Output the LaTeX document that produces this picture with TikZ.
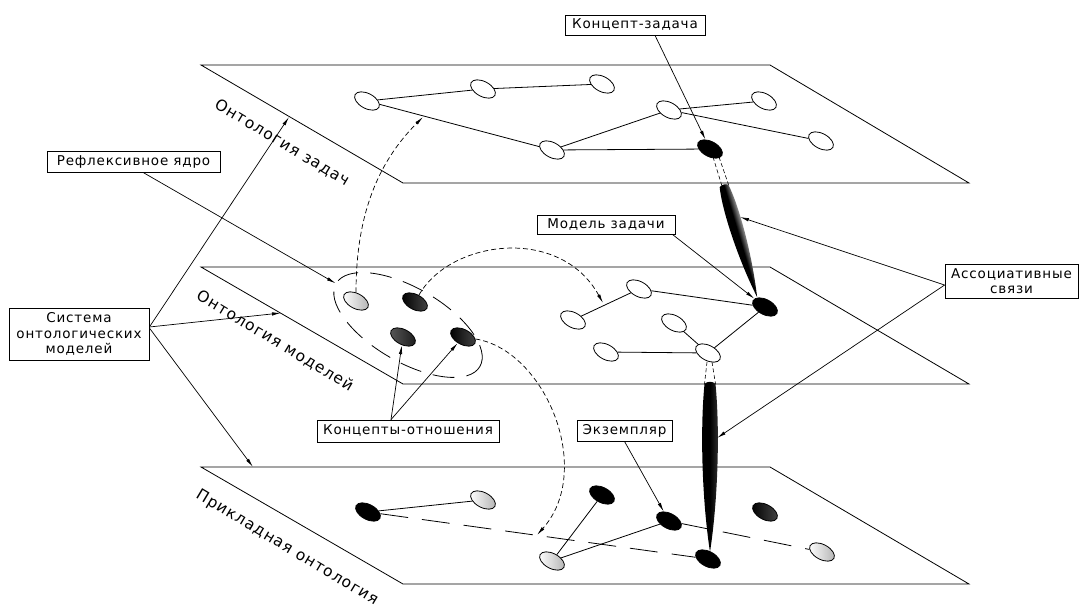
\documentclass[tikz,border=0pt]{standalone}
\usepackage{fontspec}
\setmainfont{DejaVu Sans}
\newfontfamily\lblfont{DejaVu Sans}[LetterSpace=6]
\newfontfamily\plfont{DejaVu Sans}[LetterSpace=7]
\usetikzlibrary{shapes.geometric,arrows.meta,calc}
\begin{document}
\begin{tikzpicture}[x=1pt,y=-1pt,
  plane/.style={draw, line width=0.8},
  nd/.style={ellipse, draw, line width=0.8, minimum width=27, minimum height=15, inner sep=0pt, rotate=-28},
  wn/.style={nd, fill=white},
  bn/.style={nd, fill=black},
  ln/.style={nd, left color=white, right color=gray!60},
  dn/.style={nd, left color=black, right color=gray!55!black},
  gn/.style={nd, left color=gray!70!black, right color=black!90},
  lnk/.style={line width=0.8},
  arr/.style={line width=0.7, -{Latex[length=9pt,width=3.4pt]}},
  darr/.style={line width=0.7, dash pattern=on 5pt off 3pt, -{Latex[length=9pt,width=3.4pt]}},
  lbox/.style={draw, line width=0.8, inner sep=0pt, font=\lblfont\fontsize{13.5}{15.5}\selectfont, align=center},
  plbl/.style={font=\plfont\fontsize{15.5}{17}\selectfont, rotate=-31},
  ddash/.style={line width=0.6, dash pattern=on 4pt off 2.5pt},
]
\useasboundingbox (0,0) rectangle (1080,610);
\fill[white] (0,0) rectangle (1080,610);

% planes
\draw[plane] (201,65) -- (770,65) -- (969,183) -- (403,183) -- cycle;
\draw[plane] (201,267) -- (770,267) -- (969,384) -- (403,384) -- cycle;
\draw[plane] (201,467) -- (770,467) -- (969,584) -- (403,584) -- cycle;

% plane labels
\node[plbl] (lz) at (282,143) {Онтология задач};
\node[plbl] (lm) at (275,341) {Онтология моделей};
\node[plbl] (lp) at (287,548) {Прикладная онтология};

% top plane nodes
\node[wn] (T1) at (367,101) {};
\node[wn] (T2) at (483,89) {};
\node[wn] (T3) at (602,84) {};
\node[wn] (T4) at (552,150) {};
\node[wn] (T5) at (669,110) {};
\node[wn] (T6) at (764,101) {};
\node[wn] (T7) at (821,141) {};
\node[bn] (T8) at (710,149) {};

% middle plane nodes
\node[ln] (M1) at (356,301) {};
\node[dn] (M2) at (415,302) {};
\node[gn] (M3) at (403,337) {};
\node[dn] (M4) at (463,337) {};
\node[wn] (M5) at (639,289) {};
\node[wn] (M6) at (573,320) {};
\node[bn] (M7) at (765,307) {};
\node[wn] (M8) at (674,323) {};
\node[wn] (M9) at (606,352) {};
\node[wn] (M10) at (708,353) {};

% reflexive core
\node[ellipse, draw, line width=0.8, dash pattern=on 22pt off 12pt, minimum width=166, minimum height=74, inner sep=0pt, rotate=-30] (core) at (408,325) {};

% bottom plane nodes
\node[bn] (B1) at (368,512) {};
\node[ln] (B2) at (483,500) {};
\node[ln] (B3) at (552,561) {};
\node[bn] (B4) at (602,495) {};
\node[bn] (B5) at (669,521) {};
\node[bn] (B6) at (708,559) {};
\node[dn] (B7) at (765,512) {};
\node[ln] (B8) at (822,552) {};

% links
\draw[lnk] (T1) -- (T2);
\draw[lnk] (T2) -- (T3);
\draw[lnk] (T1) -- (T4);
\draw[lnk] (T4) -- (T5);
\draw[lnk] (T4) -- (T8);
\draw[lnk] (T5) -- (T6);
\draw[lnk] (T5) -- (T7);
\draw[lnk] (M6) -- (M5);
\draw[lnk] (M5) -- (M7);
\draw[lnk] (M8) -- (M10);
\draw[lnk] (M9) -- (M10);
\draw[lnk] (M10) -- (M7);
\draw[lnk] (B1) -- (B2);
\draw[lnk] (B3) -- (B4);
\draw[lnk] (B3) -- (B5);
\draw[lnk, dash pattern=on 28pt off 14pt] (B1) -- (B6);
\draw[lnk, dash pattern=on 28pt off 14pt] (B5) -- (B8);

% associative links
\coordinate (d1a) at (713,157);
\coordinate (d1b) at (722,186);
\coordinate (d1c) at (719,157);
\coordinate (d1d) at (729,186);
\draw[ddash] (d1a) -- (d1b);
\draw[ddash] (d1c) -- (d1d);
\begin{scope}[transform canvas={shift={(724,186)}, rotate=-73.4}]
  \shade[top color=gray!55, bottom color=black, middle color=black]
    (0,-4.5) .. controls (20,-8.5) and (70,-8) .. (116,0)
    .. controls (70,8) and (20,8.5) .. (0,4.5)
    .. controls (-2,2) and (-2,-2) .. (0,-4.5) -- cycle;
\end{scope}
\coordinate (d2a) at (707,362);
\coordinate (d2b) at (704.5,384);
\coordinate (d2c) at (712,362);
\coordinate (d2d) at (715.5,384);
\draw[ddash] (d2a) -- (d2b);
\draw[ddash] (d2c) -- (d2d);
\shade[left color=black, right color=gray!45!black, middle color=black]
  (704.5,384) .. controls (700,430) and (702,500) .. (710,552)
  .. controls (718,500) and (720,430) .. (715.5,384)
  .. controls (713,381) and (707,381) .. (704.5,384) -- cycle;

% dashed curved arrows
\coordinate (a1) at (423,117);
\coordinate (a2) at (603,303);
\coordinate (a3) at (537,535);
\draw[darr] (M1) .. controls (356,220) and (375,165) .. (a1);
\draw[darr] (M2) .. controls (450,240) and (560,225) .. (a2);
\draw[darr] (M4) .. controls (545,350) and (595,470) .. (a3);

% label boxes
\node[lbox, minimum width=140, minimum height=20] (kz) at (635,25) {Концепт-задача};
\node[lbox, minimum width=173, minimum height=21] (ry) at (133.5,161.5) {Рефлексивное ядро};
\node[lbox, minimum width=140, minimum height=52] (sys) at (79,334) {Система\\онтологических\\моделей};
\node[lbox, minimum width=138, minimum height=19] (mz) at (606,224.5) {Модель задачи};
\node[lbox, minimum width=133, minimum height=34] (as) at (1011.5,281) {Ассоциативные\\связи};
\node[lbox, minimum width=182, minimum height=22] (ko) at (408,431) {Концепты-отношения};
\node[lbox, minimum width=95, minimum height=21] (ek) at (624.5,430.5) {Экземпляр};

% pointer targets
\coordinate (pt1) at (289,117);
\coordinate (pm1) at (281,313);
\coordinate (pb1) at (253,467);
\coordinate (sp1) at (740,217);
\coordinate (sp2) at (717,438);

% pointers
\draw[arr] ([xshift=20]kz.south) -- (T8);
\draw[arr] ([xshift=9.5]ry.south) -- (core);
\draw[arr] ([yshift=7]sys.east) -- (pt1);
\draw[arr] ([yshift=7]sys.east) -- (pm1);
\draw[arr] ([yshift=6]sys.east) -- (pb1);
\draw[arr] ([xshift=-3]mz.south east) -- (M7);
\draw[arr] ([yshift=-4]as.west) -- (sp1);
\draw[arr] ([yshift=-4]as.west) -- (sp2);
\draw[arr] ([xshift=-17]ko.north) -- (M3);
\draw[arr] ([xshift=-17]ko.north) -- (M4);
\draw[arr] (ek.south) -- (B5);
\end{tikzpicture}
\end{document}
